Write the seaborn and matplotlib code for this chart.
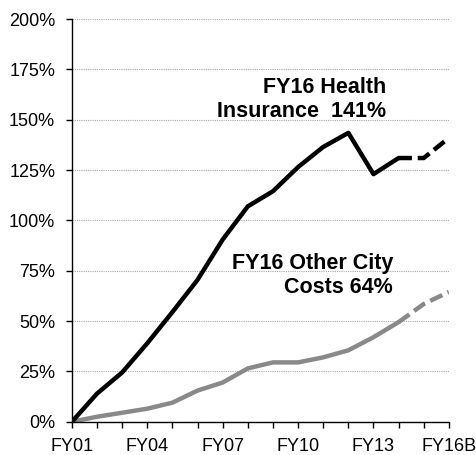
import seaborn as sns
import pandas as pd
import matplotlib.pyplot as plt
from matplotlib.ticker import FuncFormatter

#%% data (cumulative growth since FY01, %)
years = ["FY01", "FY02", "FY03", "FY04", "FY05", "FY06", "FY07", "FY08",
         "FY09", "FY10", "FY11", "FY12", "FY13", "FY14", "FY15", "FY16B"]
health = [0, 14, 24.5, 39, 54.5, 70.5, 90.5, 107, 114.5, 126.5, 136.5, 143.5,
          123, 131, 131, 141]
other = [0, 2.5, 4.5, 6.5, 9.5, 15.5, 19.5, 26.5, 29.5, 29.5, 32, 35.5,
         42, 49.5, 58.5, 64.5]
last_actual = 13  # FY14 index, budget years drawn dashed after this

df = pd.DataFrame({"x": range(len(years)), "health": health, "other": other})
act = df.iloc[:last_actual + 1]
proj = df.iloc[last_actual:]

#%% plot
sns.set_style("white")
plt.rcParams['font.family'] = ['Liberation Sans', 'DejaVu Sans']

fig = plt.figure(figsize=(4.76, 4.55), dpi=100)
ax = fig.add_axes([0.151, 0.073, 0.792, 0.885])

grey = "#898989"
dash = (0, (3, 1.3))
sns.lineplot(data=act, x="x", y="other", color=grey, lw=3.2, ax=ax)
sns.lineplot(data=proj, x="x", y="other", color=grey, lw=3.2, ax=ax, linestyle=dash)
sns.lineplot(data=act, x="x", y="health", color="black", lw=3.2, ax=ax)
sns.lineplot(data=proj, x="x", y="health", color="black", lw=3.2, ax=ax, linestyle=dash)

ax.set_xlim(0, len(years) - 1)
ax.set_ylim(0, 200)
ax.set_xticks(range(len(years)))
ax.set_xticklabels([y if i % 3 == 0 else "" for i, y in enumerate(years)])
ax.set_yticks(range(0, 201, 25))
ax.yaxis.set_major_formatter(FuncFormatter(lambda v, p: "%d%%" % v))
ax.set_xlabel("")
ax.set_ylabel("")
ax.grid(axis="y", color="#a8a8a8", linestyle=(0, (1, 1)), lw=0.8)
ax.set_axisbelow(True)
sns.despine(ax=ax)
for s in ["left", "bottom"]:
    ax.spines[s].set_color("black")
    ax.spines[s].set_linewidth(1)
ax.tick_params(axis="both", direction="out", length=4, width=1, color="black",
               labelcolor="black", labelsize=13, bottom=True, left=True)
ax.tick_params(axis="y", pad=8)
ax.tick_params(axis="x", pad=8)

ax.text(12.49, 151.5, "FY16 Health\nInsurance  141%", ha="right", va="baseline",
        fontsize=15.5, fontweight="bold", color="black", linespacing=1.2)
ax.text(12.78, 64, "FY16 Other City\nCosts 64%", ha="right", va="baseline",
        fontsize=15.5, fontweight="bold", color="black", linespacing=1.2)

fig.savefig("out.png", dpi=100)
